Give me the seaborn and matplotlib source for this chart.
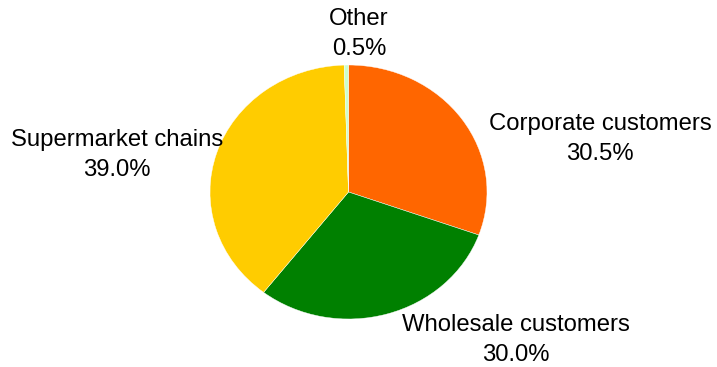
import matplotlib
matplotlib.use("Agg")
import matplotlib.pyplot as plt
import seaborn as sns

# Sales split by customer group
categories = ["Corporate customers", "Wholesale customers", "Supermarket chains", "Other"]
shares = [30.5, 30.0, 39.0, 0.5]
colors = ["#FF6600", "#008000", "#FFCC00", "#CCFFCC"]

sns.set_theme(style="white")
plt.rcParams["font.family"] = ["Liberation Sans", "DejaVu Sans"]

W, H = 717, 367
fig = plt.figure(figsize=(W / 100, H / 100), dpi=100)
fig.patch.set_facecolor("white")

# pie box in pixels (slightly wider than tall)
left, top, right, bottom = 210, 65, 487, 319
ax = fig.add_axes([left / W, 1 - bottom / H, (right - left) / W, (bottom - top) / H])
ax.pie(shares, colors=colors, startangle=90, counterclock=False,
       wedgeprops=dict(edgecolor="white", linewidth=0.3))
ax.set_aspect("auto")
ax.set_xlim(-1, 1)
ax.set_ylim(-1, 1)
ax.axis("off")

# category labels with percentage below
label_pos = {
    "Corporate customers": (600, 139),
    "Wholesale customers": (516, 340),
    "Supermarket chains": (117, 155),
    "Other": (359, 34),
}
for name, val in zip(categories, shares):
    x, y = label_pos[name]
    fig.text(x / W, 1 - y / H, f"{name}\n{val:.1f}%", ha="center", va="center",
             fontsize=17.2, color="black", linespacing=1.5)

fig.savefig("out.png", dpi=100, facecolor="white")
